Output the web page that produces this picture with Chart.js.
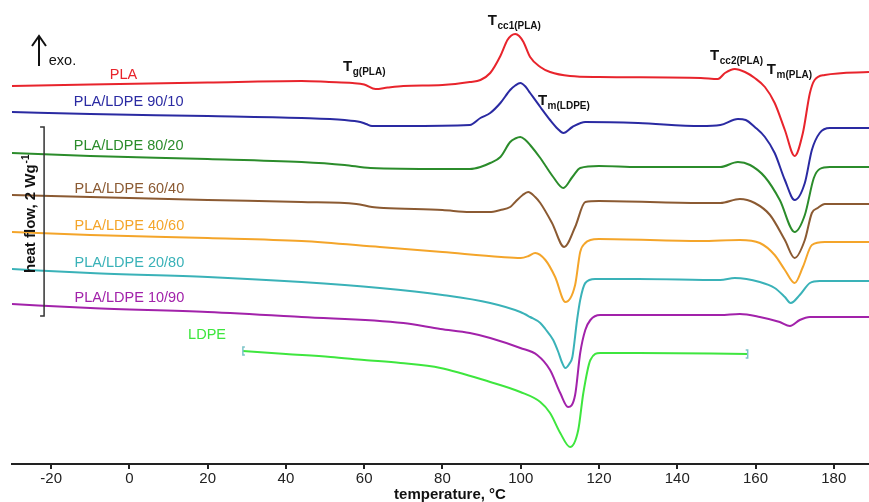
<!DOCTYPE html>
<html><head><meta charset="utf-8">
<script src="https://cdn.jsdelivr.net/npm/chart.js@4"></script>
<style>html,body{margin:0;padding:0;background:#fff;overflow:hidden}</style>
</head><body>
<canvas id="c" width="869" height="502"></canvas>
<script>
// ---- DATA (temperature in °C, signal in picture units: larger = further down / endo) ----
const TICKS = [-20, 0, 20, 40, 60, 80, 100, 120, 140, 160, 180];
const SERIES = ['PLA', 'PLA/LDPE 90/10', 'PLA/LDPE 80/20', 'PLA/LDPE 60/40', 'PLA/LDPE 40/60', 'PLA/LDPE 20/80', 'PLA/LDPE 10/90', 'LDPE'];

const PLA_T = [-30, -10, 20, 44, 51, 57, 60, 62.9, 66, 70, 80, 87, 89.7, 92.2, 94.8, 96.6, 97.6, 98.6, 99.6, 100.7, 102.4, 105, 107.5, 112.6, 120, 146, 150.4, 152.2, 154.7, 157.3, 159.8, 162.4, 164.9, 167.5, 170, 172.1, 173.9, 175.1, 177.7, 189];
const PLA_V = [86, 84.5, 82.5, 81, 82, 83, 84.5, 89, 87.5, 86, 85, 82, 80, 73, 56, 40, 35.5, 34, 36, 42, 57, 67, 72, 76, 77, 78, 79, 73, 69, 72, 78, 87, 103, 130, 156, 133, 93, 80, 75, 72];

const B90_T = [-30, -10, 20, 44, 55, 59, 60.5, 62, 70, 87, 89.7, 92.2, 94.8, 97.3, 98.6, 99.9, 101.2, 102.4, 105, 107.5, 109.5, 110.9, 113.2, 116.5, 130, 146, 151, 155.5, 157.5, 159.8, 162.4, 164.9, 167.5, 170, 172.6, 174.4, 176.4, 179, 189];
const B90_V = [112, 114, 116, 118, 120, 122, 124, 126, 126, 125, 118, 113, 103, 90, 85.5, 83, 86.5, 93, 107, 120, 129, 133, 127, 122, 123, 126, 125, 119, 120, 127, 137, 153, 180, 200, 183, 150, 133, 128, 128];

const B80_T = [-30, -10, 20, 44, 55, 61.6, 80, 87, 89.7, 92.2, 94.8, 97.3, 98.6, 99.9, 101.2, 102.4, 105, 108.3, 110.9, 113.2, 115.2, 120, 130, 151, 155.5, 158.6, 162.4, 166.2, 170, 172.6, 174.9, 176.4, 179, 189];
const B80_V = [153, 156, 159, 162, 165, 168, 169, 169, 167, 163, 157, 142, 138.5, 137, 140, 145, 158, 177, 188, 177, 168, 166, 167, 167, 162, 165, 177, 200, 232, 215, 178, 169, 167, 167];

const B60_T = [-30, -10, 20, 44, 58, 62, 65, 80, 87, 92, 94.8, 97.3, 98.6, 100.5, 101.9, 103.7, 105, 108, 111.1, 113.9, 116.5, 120, 146, 151, 156, 159.8, 163.7, 167.5, 170, 172.6, 174.4, 175.9, 177.7, 189];
const B60_V = [195, 197, 200, 202, 204, 207, 208, 210, 212, 212, 210, 207, 202, 195, 192, 197, 203, 223, 247, 227, 202, 201, 203, 203, 199, 203, 215, 240, 258, 240, 213, 208, 204, 204];

const B40_T = [-30, -10, 20, 44, 64, 80, 95, 100, 102, 103.7, 106.3, 108.8, 111.4, 113.9, 115.2, 116.5, 117.8, 120, 146, 156, 161.1, 164.9, 167.5, 170, 172.1, 174.4, 177.7, 189];
const B40_V = [232, 235, 238, 241, 247, 252, 257, 258, 256, 253, 260, 277, 302, 285, 252, 243, 240, 239, 241, 240, 243, 255, 270, 283, 267, 245, 242, 242];

const B20_T = [-30, -10, 20, 44, 64, 80, 92.2, 99.9, 102.4, 105, 106.3, 108.3, 109.6, 110.5, 111.4, 112.4, 113.2, 114.4, 115.2, 116.5, 119, 130, 151, 154.7, 161.1, 164.9, 167.5, 169, 171.3, 173.9, 176.4, 189];
const B20_V = [269, 273, 277, 282, 288, 295, 303, 312, 317, 323, 329, 340, 352, 362, 368, 364, 357, 320, 300, 283, 279, 279, 280, 278, 282, 288, 297, 303, 295, 283, 281, 281];

const B10_T = [-30, -10, 20, 44, 70, 79.5, 87, 92.2, 99.9, 104.2, 107.5, 110.1, 112.1, 113.9, 115.2, 116.5, 117.8, 120.3, 130, 151, 156, 161.1, 166.2, 168.8, 171.3, 173.9, 189];
const B10_V = [304, 308, 312, 317, 323, 329, 333, 338, 348, 355, 370, 393, 407, 395, 353, 330, 320, 315, 315, 315, 314, 317, 322, 326, 320, 317, 317];

const LDPE_T = [29, 40, 51.4, 60, 69.3, 79.5, 92.2, 99.9, 105, 107.5, 110.1, 112.6, 114.7, 116, 117.8, 120.3, 130, 158];
const LDPE_V = [351, 354, 357, 360, 363, 368, 382, 392, 402, 413, 433, 447, 430, 393, 360, 353, 353, 354];

// ---- STYLE / LAYOUT ----
const FONT = '"Liberation Sans", Arial, Helvetica, sans-serif';
const COLORS = ['#e8242c', '#2a2aa2', '#2b8c2b', '#8b5a32', '#f4a52a', '#3ab2b8', '#a222aa', '#3ee63e'];
const LABEL_POS = [[-5, 75], [-14.2, 102], [-14.2, 146], [-14, 189], [-14, 226], [-14, 263], [-14, 298], [15, 335]];
const ANNOT = [
  { main: 'T', sub: 'g(PLA)',   t: 54.6,  v: 71 },
  { main: 'T', sub: 'cc1(PLA)', t: 91.6,  v: 25 },
  { main: 'T', sub: 'm(LDPE)',  t: 104.4, v: 105 },
  { main: 'T', sub: 'cc2(PLA)', t: 148.4, v: 60 },
  { main: 'T', sub: 'm(PLA)',   t: 162.9, v: 74 }
];

const seriesT = [PLA_T, B90_T, B80_T, B60_T, B40_T, B20_T, B10_T, LDPE_T];
const seriesV = [PLA_V, B90_V, B80_V, B60_V, B40_V, B20_V, B10_V, LDPE_V];

const datasets = SERIES.map((name, i) => ({
  label: name,
  data: seriesT[i].map((t, k) => ({ x: t, y: seriesV[i][k] })),
  borderColor: COLORS[i],
  backgroundColor: COLORS[i],
  borderWidth: 2,
  pointRadius: 0,
  fill: false,
  cubicInterpolationMode: 'monotone'
}));

const decor = {
  id: 'decor',
  beforeDraw(chart) {
    const c = chart.ctx;
    c.save(); c.fillStyle = '#fff'; c.fillRect(0, 0, chart.width, chart.height); c.restore();
  },
  afterDatasetsDraw(chart) {
    const c = chart.ctx, xs = chart.scales.x, ys = chart.scales.y;
    const X = t => xs.getPixelForValue(t), Y = v => ys.getPixelForValue(v);
    c.save();
    // series labels
    c.font = '14.5px ' + FONT; c.textAlign = 'left'; c.textBaseline = 'middle';
    SERIES.forEach((s, i) => { c.fillStyle = COLORS[i]; c.fillText(s, X(LABEL_POS[i][0]), Y(LABEL_POS[i][1])); });
    // transition annotations
    c.fillStyle = '#111'; c.textBaseline = 'alphabetic';
    ANNOT.forEach(a => {
      const x = X(a.t), y = Y(a.v);
      c.font = 'bold 15px ' + FONT; c.fillText(a.main, x, y);
      const w = c.measureText(a.main).width;
      c.font = 'bold 10px ' + FONT; c.fillText(a.sub, x + w + 0.5, y + 4);
    });
    // LDPE end caps
    const ld = chart.getDatasetMeta(7).data;
    const p0 = ld[0], p1 = ld[ld.length - 1];
    c.strokeStyle = '#7cc4c8'; c.lineWidth = 1.5;
    c.beginPath();
    c.moveTo(p0.x + 2, p0.y - 4); c.lineTo(p0.x, p0.y - 4); c.lineTo(p0.x, p0.y + 4); c.lineTo(p0.x + 2, p0.y + 4);
    c.moveTo(p1.x - 2, p1.y - 4); c.lineTo(p1.x, p1.y - 4); c.lineTo(p1.x, p1.y + 4); c.lineTo(p1.x - 2, p1.y + 4);
    c.stroke();
    // exo arrow
    const ax = X(-23.1), at = Y(36), ab = Y(66);
    c.strokeStyle = '#111'; c.lineWidth = 2;
    c.beginPath(); c.moveTo(ax, ab); c.lineTo(ax, at);
    c.moveTo(ax - 7, at + 10); c.lineTo(ax, at); c.lineTo(ax + 7, at + 10); c.stroke();
    c.fillStyle = '#111'; c.font = '14.5px ' + FONT; c.textBaseline = 'middle';
    c.fillText('exo.', X(-20.6), Y(61));
    // scale bar (2 W/g)
    const sx = X(-21.8), st = Y(127), sb = Y(316);
    c.strokeStyle = '#333'; c.lineWidth = 1.5;
    c.beginPath(); c.moveTo(sx - 4, st); c.lineTo(sx, st); c.lineTo(sx, sb); c.lineTo(sx - 4, sb); c.stroke();
    c.save();
    c.translate(X(-25.1), Y(273)); c.rotate(-Math.PI / 2);
    c.textAlign = 'left'; c.textBaseline = 'middle'; c.fillStyle = '#111';
    c.font = 'bold 15px ' + FONT; c.fillText('heat flow, 2 Wg', 0, 0);
    const hw = c.measureText('heat flow, 2 Wg').width;
    c.font = 'bold 10px ' + FONT; c.fillText('-1', hw + 1, -5);
    c.restore();
    // axis title
    c.fillStyle = '#111'; c.font = 'bold 15px ' + FONT; c.textAlign = 'center'; c.textBaseline = 'middle';
    c.fillText('temperature, °C', 450, 495);
    c.restore();
  }
};

new Chart(document.getElementById('c').getContext('2d'), {
  type: 'line',
  data: { datasets },
  options: {
    responsive: false, animation: false, devicePixelRatio: 1,
    layout: { padding: { left: 12, right: 0, top: 0, bottom: 0 }, autoPadding: false },
    plugins: { legend: { display: false }, tooltip: { enabled: false } },
    scales: {
      x: {
        type: 'linear', min: -30, max: 189,
        afterBuildTicks: s => { s.ticks = TICKS.map(v => ({ value: v })); },
        afterFit: s => { s.height = 38; },
        grid: { drawOnChartArea: false, drawTicks: true, tickLength: 5, color: '#222', lineWidth: 2 },
        border: { display: true, color: '#222', width: 2 },
        ticks: { font: { family: FONT, size: 15 }, color: '#222', padding: 1, maxRotation: 0, autoSkip: false }
      },
      y: { type: 'linear', display: false, min: 0, max: 464, reverse: true }
    }
  },
  plugins: [decor]
});
</script>
</body></html>
